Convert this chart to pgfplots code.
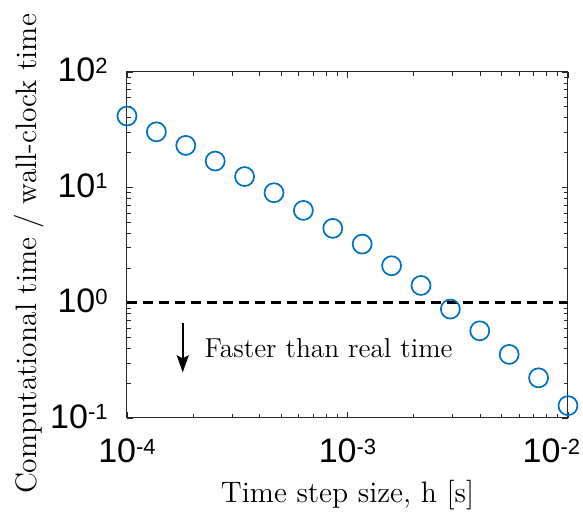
\documentclass[border=0pt]{standalone}
\usepackage{fontspec}
\usepackage{pgfplots}
\pgfplotsset{compat=1.18}
\usetikzlibrary{arrows.meta}
\newfontfamily\arial{Liberation Sans}
\definecolor{mblue}{RGB}{0,114,189}
\newcommand{\tl}[1]{{\arial\fontsize{17}{19}\selectfont 10\raisebox{4.2pt}{\fontsize{11}{13}\selectfont #1}}}

\begin{document}
\begin{tikzpicture}
\begin{axis}[
 xmode=log, ymode=log,
 scale only axis, width=220.5pt, height=173pt,
 xmin=1e-4, xmax=1e-2, ymin=0.1, ymax=100,
 xtick={1e-4,1e-3,1e-2}, xticklabels={\tl{-4},\tl{-3},\tl{-2}\hspace*{16.6pt}},
 ytick={0.1,1,10,100}, yticklabels={\tl{-1},\tl{0},\tl{1},\tl{2}},
 tick align=inside, major tick length=3pt, minor tick length=1.8pt,
 axis line style={black!85, line width=0.5pt},
 every tick/.style={black!85, line width=0.4pt},
 xticklabel style={anchor=base, inner sep=0pt, yshift=-22.5pt},
 yticklabel style={anchor=base east, inner sep=0pt, xshift=-9.5pt, yshift=-5pt},
 xlabel={Time step size, h [s]},
 ylabel={Computational time / wall-clock time},
 label style={font=\fontsize{14.8}{17}\selectfont},
 xlabel style={at={(axis description cs:0.5,-0.2428)}, anchor=base},
 ylabel style={at={(axis description cs:-0.2063,0.474)}, anchor=base},
 clip=false,
]
\addplot[black, line width=1.2pt, dash pattern=on 5pt off 3pt] coordinates {(1e-4,1) (1e-2,1)};
\addplot[only marks, mark=o, mark size=4.75pt, mark options={mblue, line width=0.85pt}] coordinates {
(1.0000e-4,41.5) (1.3594e-4,30.3) (1.8478e-4,23.1) (2.5119e-4,16.9)
(3.4145e-4,12.4) (4.6416e-4,8.98) (6.3096e-4,6.31) (8.5770e-4,4.41)
(1.1659e-3,3.22) (1.5849e-3,2.09) (2.1544e-3,1.41) (2.9286e-3,0.88)
(3.9811e-3,0.57) (5.4117e-3,0.356) (7.3564e-3,0.223) (1.0e-2,0.128)
};
\draw[line width=1pt, -{Stealth[length=8.5pt,width=6pt,inset=1.5pt]}] (axis cs:1.79e-4,0.66) -- (axis cs:1.79e-4,0.249);
\node[anchor=base west, inner sep=0, font=\fontsize{13.7}{16}\selectfont] at (axis cs:2.24e-4,0.334) {Faster than real time};
\end{axis}
\pgfresetboundingbox
\path ([shift={(-63.5pt,-50pt)}]current axis.south west) rectangle ([shift={(7.5pt,36pt)}]current axis.north east);
\end{tikzpicture}
\end{document}
